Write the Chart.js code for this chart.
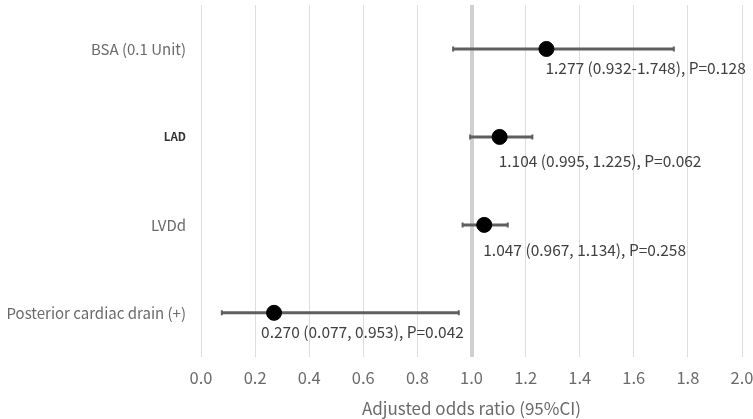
<!DOCTYPE html>
<html>
<head>
<meta charset="utf-8">
<script src="https://cdn.jsdelivr.net/npm/chart.js@4/dist/chart.umd.min.js"></script>
<style>
html,body{margin:0;padding:0;background:#fff;}
#wrap{width:753px;height:419px;}
</style>
</head>
<body>
<div id="wrap"><canvas id="c" width="753" height="419"></canvas></div>
<script>
const categories = ["BSA (0.1 Unit)", "LAD", "LVDd", "Posterior cardiac drain (+)"];
const oddsRatio = [1.277, 1.104, 1.047, 0.270];
const ciLow = [0.932, 0.995, 0.967, 0.077];
const ciHigh = [1.748, 1.225, 1.134, 0.953];
const valueLabels = [
  "1.277 (0.932-1.748), P=0.128",
  "1.104 (0.995, 1.225), P=0.062",
  "1.047 (0.967, 1.134), P=0.258",
  "0.270 (0.077, 0.953), P=0.042"
];
const xTicks = [0.0, 0.2, 0.4, 0.6, 0.8, 1.0, 1.2, 1.4, 1.6, 1.8, 2.0];

const FONT = "'Noto Sans CJK JP', 'Noto Sans', sans-serif";

const ciDatasets = categories.map((c, i) => ({
  type: 'line',
  label: 'CI ' + c,
  data: [{x: ciLow[i], y: i + 1}, {x: ciHigh[i], y: i + 1}],
  borderColor: '#5f5f5f',
  borderWidth: 3,
  pointStyle: 'line',
  rotation: 90,
  pointRadius: 2.5,
  pointBorderWidth: 2,
  pointBorderColor: '#5f5f5f',
  pointBackgroundColor: '#5f5f5f',
  pointHoverRadius: 2.5,
  order: 2
}));

const pointDataset = {
  type: 'scatter',
  label: 'OR',
  data: oddsRatio.map((v, i) => ({x: v, y: i + 1})),
  backgroundColor: '#000',
  borderColor: '#000',
  pointRadius: 7.5,
  pointHoverRadius: 7.5,
  order: 1
};

const labelOpts = {
  dx: [-1, -1, -1, -13],
  dy: [19, 24, 25, 19]
};

const valueLabelPlugin = {
  id: 'valueLabels',
  afterDatasetsDraw(chart) {
    const {ctx, scales} = chart;
    ctx.save();
    ctx.font = "15.5px " + FONT;
    ctx.fillStyle = '#404040';
    ctx.textAlign = 'left';
    ctx.textBaseline = 'middle';
    valueLabels.forEach((t, i) => {
      const x = scales.x.getPixelForValue(oddsRatio[i]) + labelOpts.dx[i];
      const y = scales.y.getPixelForValue(i + 1) + labelOpts.dy[i];
      ctx.fillText(t, x, y);
    });
    ctx.restore();
  }
};

new Chart(document.getElementById('c'), {
  type: 'scatter',
  data: { datasets: [...ciDatasets, pointDataset] },
  options: {
    responsive: false,
    animation: false,
    events: [],
    layout: { autoPadding: false, padding: { top: 5, right: 0, left: 0, bottom: 0 } },
    plugins: { legend: { display: false }, tooltip: { enabled: false } },
    scales: {
      x: {
        type: 'linear',
        min: 0, max: 2,
        afterBuildTicks(scale) { scale.ticks = xTicks.map(v => ({value: v})); },
        afterFit(scale) { scale.paddingRight = 11; scale.paddingLeft = 0; },
        border: { display: false },
        grid: {
          drawTicks: false,
          color: ctx => Math.abs(ctx.tick.value - 1) < 1e-9 ? '#d0d0d0' : '#dedede',
          lineWidth: ctx => Math.abs(ctx.tick.value - 1) < 1e-9 ? 4 : 1
        },
        ticks: {
          padding: 11,
          color: '#6a6a6a',
          font: { family: FONT, size: 16.5 },
          callback: v => Number(v).toFixed(1)
        },
        title: {
          display: true,
          text: 'Adjusted odds ratio (95%CI)',
          color: '#6a6a6a',
          font: { family: FONT, size: 17 },
          padding: { top: 0, bottom: 0 }
        }
      },
      y: {
        type: 'linear',
        min: 0.5, max: 4.5,
        reverse: true,
        afterBuildTicks(scale) { scale.ticks = categories.map((c, i) => ({value: i + 1})); },
        afterFit(scale) { scale.width = 201; scale.paddingTop = 0; scale.paddingBottom = 0; },
        border: { display: false },
        grid: { display: false, drawTicks: false },
        ticks: {
          padding: 15,
          color: ctx => ctx.index === 1 ? '#333333' : '#6a6a6a',
          font: ctx => ctx.index === 1 ? { family: FONT, size: 11.5, weight: 'bold' } : { family: FONT, size: 15 },
          callback: (v) => categories[Math.round(v) - 1] || ''
        }
      }
    }
  },
  plugins: [valueLabelPlugin]
});
</script>
</body>
</html>
